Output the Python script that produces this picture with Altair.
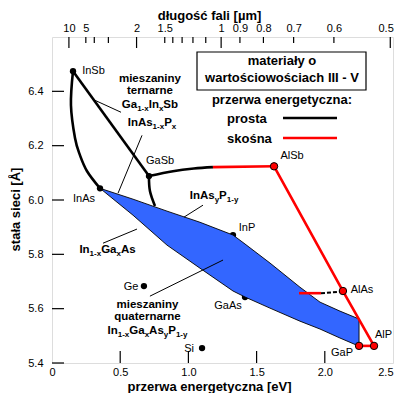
import altair as alt
import pandas as pd

# ---------------- data ----------------
XMIN, XMAX = 0.0, 2.5
YMIN, YMAX = 5.4, 6.6
W, H = 341, 326
PX_PER_E = W / (XMAX - XMIN)
HC = 1.24  # eV*um

# materials: band gap [eV], lattice constant [A]
mat_names = ["InSb", "InAs", "GaSb", "AlSb", "InP", "GaAs", "AlAs", "AlP", "GaP", "Ge", "Si"]
mat_gap = [0.154, 0.352, 0.711, 1.628, 1.327, 1.415, 2.133, 2.361, 2.251, 0.674, 1.100]
mat_const = [6.474, 6.043, 6.088, 6.124, 5.871, 5.643, 5.665, 5.463, 5.463, 5.683, 5.455]
mat_indirect = [False, False, False, True, False, False, True, True, True, False, False]
mat_under = [False, False, False, False, True, True, False, False, False, False, False]
lab_gap = [0.304, 0.235, 0.792, 1.760, 1.430, 1.290, 2.273, 2.430, 2.126, 0.579, 1.005]
lab_const = [6.474, 6.003, 6.143, 6.161, 5.896, 5.610, 5.668, 5.503, 5.437, 5.679, 5.453]

# direct-gap (black) curves
blk_seg = ["a", "a", "b", "b", "b", "b", "b", "b", "c", "c", "c", "c", "d", "d", "d"]
blk_gap = [0.154, 0.711, 0.154, 0.139, 0.169, 0.205, 0.257, 0.352, 0.711, 0.887, 1.040, 1.180, 0.711, 0.718, 0.755]
blk_const = [6.474, 6.088, 6.474, 6.349, 6.227, 6.165, 6.106, 6.043, 6.088, 6.106, 6.116, 6.121, 6.088, 6.033, 5.978]

# indirect-gap (red) lines
red_seg = ["a", "a", "b", "b", "b", "c", "c", "d", "d"]
red_gap = [1.180, 1.628, 1.628, 2.133, 2.361, 2.251, 2.361, 1.811, 1.972]
red_const = [6.121, 6.124, 6.124, 5.665, 5.463, 5.463, 5.463, 5.657, 5.657]
dash_gap = [1.972, 2.133]
dash_const = [5.657, 5.663]

# InGaAsP region (upper / lower edge at common gap values)
reg_gap = [0.352, 0.594, 0.843, 1.085, 1.327, 1.415, 1.598, 1.818, 1.965, 2.111, 2.251]
reg_upper = [6.043, 6.003, 5.959, 5.918, 5.871, 5.838, 5.768, 5.679, 5.624, 5.591, 5.562]
reg_lower = [6.043, 5.944, 5.834, 5.749, 5.665, 5.643, 5.602, 5.554, 5.525, 5.492, 5.462]

# leader lines
ld_id = [1, 1, 2, 2, 3, 3, 4, 4, 5, 5]
ld_gap = [0.315, 0.506, 0.660, 0.484, 0.968, 1.107, 0.374, 0.623, 0.718, 1.254]
ld_const = [6.367, 6.323, 6.238, 6.025, 5.937, 5.981, 5.841, 5.893, 5.646, 5.779]

# bold annotations (plain)
note_text = ["mieszaniny", "ternarne", "mieszaniny", "quaternarne"]
note_gap = [0.718, 0.718, 0.700, 0.700]
note_const = [6.444, 6.400, 5.613, 5.569]

# bold annotations with subscripts: (segments, center gap, center const)
rich_labels = [
    ([("Ga", 0), ("1-x", 1), ("In", 0), ("x", 1), ("Sb", 0)], 0.718, 6.349),
    ([("InAs", 0), ("1-x", 1), ("P", 0), ("x", 1)], 0.733, 6.282),
    ([("InAs", 0), ("y", 1), ("P", 0), ("1-y", 1)], 1.188, 6.014),
    ([("In", 0), ("1-x", 1), ("Ga", 0), ("x", 1), ("As", 0)], 0.407, 5.815),
    ([("In", 0), ("1-x", 1), ("Ga", 0), ("x", 1), ("As", 0), ("y", 1), ("P", 0), ("1-y", 1)], 0.700, 5.518),
]

# axes
x_labels = [0, 0.5, 1.0, 1.5, 2.0, 2.5]
x_ticks = [0.5, 1.0, 1.5, 2.0]
y_labels = [5.4, 5.6, 5.8, 6.0, 6.2, 6.4]
wl_labels = [10, 5, 2, 1.5, 1, 0.9, 0.8, 0.7, 0.6, 0.5]
wl_major = [10, 2, 1, 0.5]
wl_minor = [5, 4, 3, 1.5, 1.4, 1.3, 1.2, 1.1, 0.9, 0.8, 0.7, 0.6]

legend_title = ["materiały o", "wartościowościach III - V"]
legend_heading = "przerwa energetyczna:"
legend_items = ["prosta", "skośna"]
legend_colors = ["black", "#ff0000"]

x_title = "przerwa energetyczna [eV]"
y_title = "stała sieci [Å]"
top_title = "długość fali [µm]"

# ---------------- style ----------------
FONT = "Liberation Sans"
BLUE = "#3366ff"
RED = "#ff0000"

BOLD_W = {"G": 778, "a": 556, "I": 278, "n": 611, "S": 667, "b": 611, "A": 722, "s": 556,
          "P": 667, "x": 556, "y": 556, "1": 556, "-": 333}
MAIN_SIZE, SUB_SIZE = 11.5, 8

xs = alt.Scale(domain=[XMIN, XMAX], nice=False, zero=False)
ys = alt.Scale(domain=[YMIN, YMAX], nice=False, zero=False)


def X(f, axis=None):
    return alt.X(f, type="quantitative", scale=xs, axis=axis)


def Y(f, axis=None):
    return alt.Y(f, type="quantitative", scale=ys, axis=axis)


mat = pd.DataFrame({"name": mat_names, "E": mat_gap, "a": mat_const,
                    "ind": mat_indirect, "under": mat_under,
                    "lE": lab_gap, "la": lab_const})
blk = pd.DataFrame({"seg": blk_seg, "E": blk_gap, "a": blk_const})
blk["o"] = range(len(blk))
red = pd.DataFrame({"seg": red_seg, "E": red_gap, "a": red_const})
red["o"] = range(len(red))
dash = pd.DataFrame({"E": dash_gap, "a": dash_const})
reg = pd.DataFrame({"E": reg_gap, "up": reg_upper, "lo": reg_lower})
ld = pd.DataFrame({"id": ld_id, "E": ld_gap, "a": ld_const})
ld["o"] = range(len(ld))
notes = pd.DataFrame({"t": note_text, "E": note_gap, "a": note_const})

rows = []
for segs, cx, cy in rich_labels:
    widths = [sum(BOLD_W[c] for c in s) * (SUB_SIZE if sub else MAIN_SIZE) / 1000 for s, sub in segs]
    off = -sum(widths) / 2
    for (s, sub), w in zip(segs, widths):
        rows.append({"t": s, "sub": sub, "E": cx + off / PX_PER_E, "a": cy})
        off += w
rich = pd.DataFrame(rows)

one = pd.DataFrame({"k": [0]})

# ---------------- layers ----------------
dots_under = alt.Chart(mat).transform_filter("datum.under").mark_point(
    filled=True, color="black", size=40, opacity=1).encode(x=X("E"), y=Y("a"))

region = alt.Chart(reg).mark_area(color=BLUE, stroke="black", strokeWidth=0.9,
                                  opacity=1, fillOpacity=1).encode(
    x=X("E"), y=Y("up"), y2="lo")

black_lines = alt.Chart(blk).mark_line(color="black", strokeWidth=2.6,
                                       interpolate="cardinal").encode(
    x=X("E"), y=Y("a"), detail="seg:N", order="o:Q")

red_lines = alt.Chart(red).mark_line(color=RED, strokeWidth=2.6).encode(
    x=X("E"), y=Y("a"), detail="seg:N", order="o:Q")

dash_line = alt.Chart(dash).mark_line(color="black", strokeWidth=2, strokeDash=[4, 2]).encode(
    x=X("E"), y=Y("a"))

leaders = alt.Chart(ld).mark_line(color="black", strokeWidth=1).encode(
    x=X("E"), y=Y("a"), detail="id:N", order="o:Q")

dots_black = alt.Chart(mat).transform_filter("!datum.ind && !datum.under").mark_point(
    filled=True, color="black", size=40, opacity=1).encode(x=X("E"), y=Y("a"))

dots_red = alt.Chart(mat).transform_filter("datum.ind").mark_point(
    filled=True, fill=RED, stroke="black", strokeWidth=1, size=55, opacity=1).encode(
    x=X("E"), y=Y("a"))

mat_labels = alt.Chart(mat).mark_text(font=FONT, fontSize=11, color="black",
                                      align="center", baseline="middle").encode(
    x=X("lE"), y=Y("la"), text="name:N")

note_labels = alt.Chart(notes).mark_text(font=FONT, fontSize=MAIN_SIZE, fontWeight="bold",
                                         color="black", align="center", baseline="middle").encode(
    x=X("E"), y=Y("a"), text="t:N")

rich_main = alt.Chart(rich).transform_filter("!datum.sub").mark_text(
    font=FONT, fontSize=MAIN_SIZE, fontWeight="bold", color="black",
    align="left", baseline="middle").encode(x=X("E"), y=Y("a"), text="t:N")

rich_sub = alt.Chart(rich).transform_filter("datum.sub").mark_text(
    font=FONT, fontSize=SUB_SIZE, fontWeight="bold", color="black",
    align="left", baseline="middle", dy=4).encode(x=X("E"), y=Y("a"), text="t:N")

left_ticks = alt.Chart(pd.DataFrame({"a": y_labels})).mark_rule(color="black", strokeWidth=1.2).encode(
    y=Y("a", axis=alt.Axis(orient="left", values=y_labels, format=".1f", ticks=False, tickSize=0,
                           domain=False, grid=False, labelPadding=9, labelFont=FONT, labelFontSize=11,
                           labelColor="black", title=y_title, titleFont=FONT, titleFontSize=13,
                           titleFontWeight="bold", titleColor="black", titleX=-37, titleY=172,
                           titleAngle=270, titleAlign="center", titleBaseline="middle")),
    x=alt.value(0), x2=alt.value(12))

bottom_ticks = alt.Chart(pd.DataFrame({"E": x_ticks})).mark_rule(color="black", strokeWidth=1.2).encode(
    x=X("E", axis=alt.Axis(orient="bottom", values=x_labels,
                           labelExpr="datum.value == 0 ? '0' : format(datum.value, '.1f')",
                           labelAlign={"expr": "datum.value > 2.45 ? 'right' : 'center'"},
                           ticks=False, tickSize=0, domain=False, grid=False, labelPadding=3,
                           labelFont=FONT, labelFontSize=11, labelColor="black", labelOverlap=False,
                           labelBound=False, title=x_title, titleFont=FONT, titleFontSize=13,
                           titleFontWeight="bold", titleColor="black", titleX=157, titleY=23,
                           titleAlign="center", titleBaseline="middle")),
    y=alt.value(H), y2=alt.value(H - 12))

top_major = alt.Chart(pd.DataFrame({"wl": wl_major})).transform_calculate(
    E=f"{HC} / datum.wl").mark_rule(color="black", strokeWidth=1.2).encode(
    x=X("E:Q", axis=alt.Axis(orient="top", values=[HC / w for w in wl_labels],
                             labelExpr=f"format({HC} / datum.value, '.3~g')",
                             labelAlign={"expr": "datum.value > 2.4 ? 'right' : 'center'"},
                             labelOffset={"expr": "datum.value > 2.4 ? 3 : 0"},
                             ticks=False, tickSize=0, domain=False, grid=False, labelPadding=4,
                             labelFont=FONT, labelFontSize=11, labelColor="black",
                             labelOverlap=False, labelBound=False, title=top_title, titleFont=FONT,
                             titleFontSize=13, titleFontWeight="bold", titleColor="black",
                             titleX=157, titleY=-22, titleAlign="center", titleBaseline="middle")),
    y=alt.value(0), y2=alt.value(11))

top_minor = alt.Chart(pd.DataFrame({"wl": wl_minor})).transform_calculate(
    E=f"{HC} / datum.wl").mark_rule(color="black", strokeWidth=1.2).encode(
    x=X("E:Q"), y=alt.value(0), y2=alt.value(6))

legend_box = alt.Chart(one).mark_rect(fill="white", stroke="black", strokeWidth=1.2).encode(
    x=alt.value(145), x2=alt.value(314), y=alt.value(15), y2=alt.value(53))

legend_layers = [legend_box]
for i, t in enumerate(legend_title):
    legend_layers.append(alt.Chart(one).mark_text(
        text=t, font=FONT, fontSize=13, fontWeight="bold", color="black",
        align="center", baseline="middle").encode(x=alt.value(230), y=alt.value(24 + 17 * i)))
legend_layers.append(alt.Chart(one).mark_text(
    text=legend_heading, font=FONT, fontSize=13, fontWeight="bold", color="black",
    align="center", baseline="middle").encode(x=alt.value(230), y=alt.value(63)))
for i, (t, c) in enumerate(zip(legend_items, legend_colors)):
    legend_layers.append(alt.Chart(one).mark_text(
        text=t, font=FONT, fontSize=13, fontWeight="bold", color="black",
        align="left", baseline="middle").encode(x=alt.value(175), y=alt.value(82 + 20 * i)))
    legend_layers.append(alt.Chart(one).mark_rule(color=c, strokeWidth=2.6).encode(
        x=alt.value(231), x2=alt.value(285), y=alt.value(81 + 20 * i)))

chart = alt.layer(
    dots_under, region, black_lines, red_lines, dash_line, leaders,
    dots_black, dots_red, mat_labels, note_labels, rich_main, rich_sub,
    left_ticks, bottom_ticks, top_major, top_minor, *legend_layers
).resolve_axis(x="independent", y="independent").properties(
    width=W, height=H,
    autosize=alt.AutoSizeParams(type="none"),
    padding={"left": 44, "top": 29, "right": 1, "bottom": 30},
).configure_view(stroke="black", strokeWidth=1.5).configure(background="white")

chart.save("out.html", embed_options={"renderer": "svg", "actions": False})
